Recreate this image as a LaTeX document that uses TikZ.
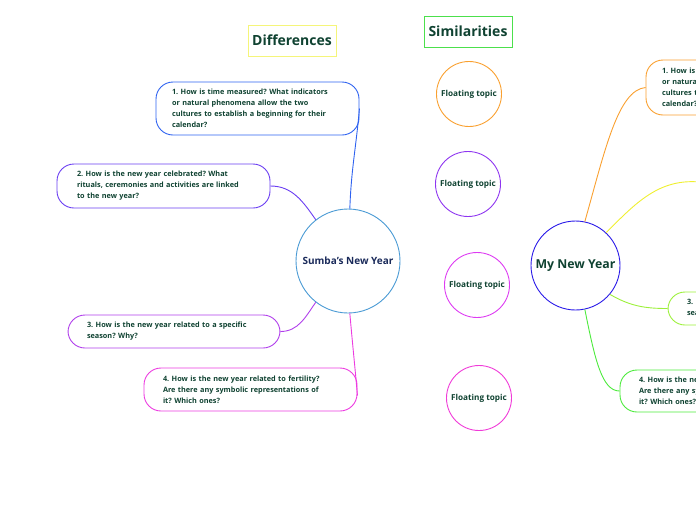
\documentclass[tikz,border=0pt]{standalone}
\usepackage{fontspec}
\setmainfont{Open Sans}
\usetikzlibrary{calc}
\frenchspacing
\definecolor{txt}{HTML}{0F4231}
\definecolor{navy}{HTML}{1A2A5A}
\definecolor{sumbac}{HTML}{4A9AD4}
\definecolor{cblue}{HTML}{2E62F0}
\definecolor{cindigo}{HTML}{6A3DF2}
\definecolor{cviolet}{HTML}{B03EEB}
\definecolor{cmag}{HTML}{EC3BE0}
\definecolor{myc}{HTML}{2A1AE8}
\definecolor{corange}{HTML}{F9A030}
\definecolor{cpurple}{HTML}{8E35F0}
\definecolor{cpink}{HTML}{DD3BF2}
\definecolor{cpink2}{HTML}{F03BD8}
\definecolor{cyellow}{HTML}{EFEF30}
\definecolor{cyellowbox}{HTML}{F5F57A}
\definecolor{cgreen}{HTML}{4CE04C}
\definecolor{clime}{HTML}{9CF03A}
\definecolor{cgreen2}{HTML}{4CEA3C}
\tikzset{
  qbox/.style={draw, line width=0.9pt, rounded corners=17pt, align=left, font=\fontsize{7.3}{11}\selectfont\bfseries, text=txt, inner xsep=16pt, inner ysep=0pt},
  topic/.style={circle, draw, line width=0.9pt, font=\bfseries, align=center, inner sep=0pt},
  ftopic/.style={circle, draw, line width=0.9pt, minimum size=65pt, inner sep=0pt, font=\fontsize{8.2}{10}\selectfont\bfseries, text=txt},
  title/.style={draw, line width=0.9pt, font=\fontsize{14}{16}\selectfont\bfseries, text=txt, minimum height=31pt, inner xsep=2pt},
  conn/.style={line width=0.9pt}
}
\begin{document}
\begin{tikzpicture}[x=1pt,y=-1pt]
\useasboundingbox (0,0) rectangle (696,520);
\clip (0,0) rectangle (696,520);
% titles
\node[title, draw=cyellowbox, minimum width=88pt] (diff) at (292,40.5) {Differences};
\node[title, draw=cgreen, minimum width=88pt] (sim) at (468,31.5) {Similarities};
% central topics
\node[topic, draw=sumbac, minimum size=104pt, text=navy, font=\fontsize{10}{12}\selectfont\bfseries] (sumba) at (348,261) {Sumba's New Year};
\node[topic, draw=myc, minimum size=89pt, text=txt, font=\fontsize{12.3}{14}\selectfont\bfseries] (mine) at (575.5,265.5) {My New Year};
% left boxes
\node[qbox, draw=cblue, text width=171pt, minimum height=53pt] (b1) at (257.5,108.5) {1. How is time measured? What indicators\\or natural phenomena allow the two\\cultures to establish a beginning for their\\calendar?};
\node[qbox, draw=cindigo, text width=173pt, inner xsep=20pt, minimum height=44pt] (b2) at (163.5,186) {2. How is the new year celebrated? What\\rituals, ceremonies and activities are linked\\to the new year?};
\node[qbox, draw=cviolet, text width=174pt, inner xsep=19pt, minimum height=33pt] (b3) at (174,331.5) {3. How is the new year related to a specific\\season? Why?};
\node[qbox, draw=cmag, text width=175pt, inner xsep=19pt, minimum height=43pt] (b4) at (250.5,389.5) {4. How is the new year related to fertility?\\Are there any symbolic representations of\\it? Which ones?};
% floating topics
\node[ftopic, draw=corange] (f1) at (469,94) {Floating topic};
\node[ftopic, draw=cpurple] (f2) at (468,184) {Floating topic};
\node[ftopic, draw=cpink] (f3) at (477,285) {Floating topic};
\node[ftopic, draw=cpink2] (f4) at (479,398) {Floating topic};
% right boxes (partly outside)
\node[qbox, draw=corange, text width=171pt, minimum height=55pt] (r1) at (747.5,87.5) {1. How is time measured? What indicators\\or natural phenomena allow the two\\cultures to establish a beginning for their\\calendar?};
\node[qbox, draw=clime, text width=174pt, inner xsep=19pt, minimum height=33pt] (r3) at (774,308.5) {3. How is the new year related to a specific\\season? Why?};
\node[qbox, draw=cgreen2, text width=175pt, inner xsep=19pt, minimum height=42pt] (r4) at (726.5,391) {4. How is the new year related to fertility?\\Are there any symbolic representations of\\it? Which ones?};
\coordinate (r2) at (700,182);
% connectors left
\draw[conn, cblue] (sumba.88) to[out=88,in=-95] (b1.east);
\draw[conn, cindigo] (sumba.128) to[out=125,in=0] (b2.east);
\draw[conn, cviolet] (sumba.232) to[out=235,in=0] (b3.east);
\draw[conn, cmag] (sumba.272) to[out=-85,in=95] ($(b4.east)+(0,6)$);
% connectors right
\draw[conn, corange] (mine.78) .. controls (605,150) and (618,90) .. (r1.west);
\draw[conn, cyellow] (mine.47) to[out=45,in=175] (r2);
\draw[conn, clime] (mine.-40) to[out=-30,in=180] (r3.west);
\draw[conn, cgreen2] (mine.-78) .. controls (595,360) and (602,391) .. (r4.west);
\end{tikzpicture}
\end{document}
